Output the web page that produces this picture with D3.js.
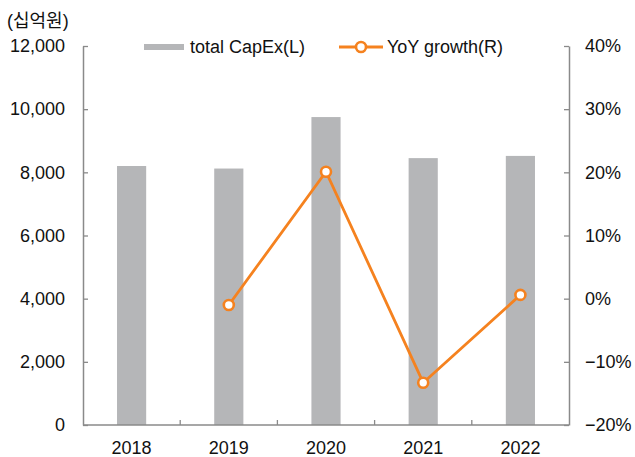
<!DOCTYPE html>
<html><head><meta charset="utf-8">
<script src="https://cdn.jsdelivr.net/npm/d3@7"></script>
<style>
html,body{margin:0;padding:0;background:#fff;}
svg{display:block;}
text{font-family:"Liberation Sans","Noto Sans CJK KR",Arial,sans-serif;fill:#111;}
</style></head>
<body>
<svg id="chart" width="635" height="457"></svg>
<script>
const categories = ["2018","2019","2020","2021","2022"];
const capex = [8200, 8120, 9750, 8450, 8520];
const yoy = [null, -1.0, 20.1, -13.3, 0.6];
const leftTicks = [0,2000,4000,6000,8000,10000,12000];
const rightTicks = [-20,-10,0,10,20,30,40];
const unitLabel = "(십억원)";
const seriesNames = ["total CapEx(L)", "YoY growth(R)"];

const FONT = '"Liberation Sans","Noto Sans CJK KR",Arial,sans-serif';
const svg = d3.select("#chart");
const m = {l:83, r:569, t:46, b:425};
const x = d3.scaleBand().domain(categories).range([m.l, m.r]).padding(0);
const yL = d3.scaleLinear().domain([0,12000]).range([m.b, m.t]);
const yR = d3.scaleLinear().domain([-20,40]).range([m.b, m.t]);
const axisColor = "#8a8a8a";
const barColor = "#b5b6b8";
const lineColor = "#f5821f";
const fs = 18;

// bars
const bw = x.bandwidth()*0.3;
svg.append("g").selectAll("rect").data(capex).join("rect")
  .attr("x",(d,i)=>x(categories[i])+x.bandwidth()/2-bw/2)
  .attr("width",bw)
  .attr("y",d=>yL(d))
  .attr("height",d=>yL(0)-yL(d))
  .attr("fill",barColor);

// left axis
const gL = svg.append("g").attr("transform",`translate(${m.l},0)`)
  .call(d3.axisLeft(yL).tickValues(leftTicks).tickSizeInner(-5).tickSizeOuter(0).tickPadding(18)
    .tickFormat(d3.format(",")));
// right axis
const gR = svg.append("g").attr("transform",`translate(${m.r},0)`)
  .call(d3.axisRight(yR).tickValues(rightTicks).tickSizeInner(-5).tickSizeOuter(0).tickPadding(16)
    .tickFormat(d=>(d<0?"\u2212"+Math.abs(d):d)+"%"));
// bottom axis
const gB = svg.append("g").attr("transform",`translate(0,${m.b})`)
  .call(d3.axisBottom(x).tickSize(0).tickPadding(16));
// category boundary ticks
const bounds = categories.slice(1).map(c=>x(c));
gB.selectAll(".bt").data(bounds).join("line").attr("class","bt")
  .attr("x1",d=>d).attr("x2",d=>d).attr("y1",0).attr("y2",-5)
  .attr("stroke",axisColor).attr("stroke-width",1.3);

[gL,gR,gB].forEach(g=>{
  g.select(".domain").attr("stroke",axisColor).attr("stroke-width",1.5);
  g.selectAll(".tick line").attr("stroke",axisColor).attr("stroke-width",1.3);
  g.selectAll("text").attr("font-size",fs).attr("fill","#111").style("font-family",FONT);
});
gR.selectAll(".tick text").attr("text-anchor","start");
gB.select(".domain").attr("d",`M${m.l},0H${m.r}`);

// line
const pts = yoy.map((v,i)=>({v, c:categories[i]})).filter(d=>d.v!==null);
const line = d3.line().x(d=>x(d.c)+x.bandwidth()/2).y(d=>yR(d.v));
svg.append("path").datum(pts).attr("d",line)
  .attr("fill","none").attr("stroke",lineColor).attr("stroke-width",2.8);
svg.append("g").selectAll("circle").data(pts).join("circle")
  .attr("cx",d=>x(d.c)+x.bandwidth()/2).attr("cy",d=>yR(d.v)).attr("r",5)
  .attr("fill","#fff").attr("stroke",lineColor).attr("stroke-width",2.6);

// unit label
svg.append("text").attr("x",7).attr("y",27).attr("font-size",fs).text(unitLabel);

// legend
const ly = 47;
svg.append("rect").attr("x",144).attr("y",ly-3).attr("width",40).attr("height",6).attr("fill",barColor);
svg.append("text").attr("x",190).attr("y",ly).attr("dy","0.35em").attr("font-size",fs).text(seriesNames[0]);
svg.append("line").attr("x1",339).attr("x2",383).attr("y1",ly).attr("y2",ly).attr("stroke",lineColor).attr("stroke-width",2.8);
svg.append("circle").attr("cx",361).attr("cy",ly).attr("r",5).attr("fill","#fff").attr("stroke",lineColor).attr("stroke-width",2.6);
svg.append("text").attr("x",387).attr("y",ly).attr("dy","0.35em").attr("font-size",fs).text(seriesNames[1]);
</script>
</body></html>
